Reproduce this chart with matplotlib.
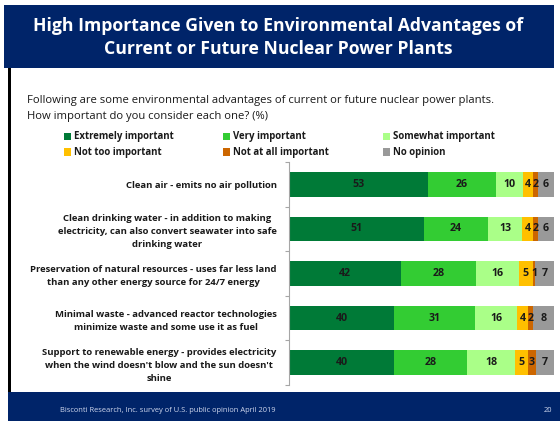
import matplotlib
matplotlib.use("Agg")
import matplotlib.pyplot as plt
from matplotlib.patches import Rectangle
import numpy as np

plt.rcParams['font.family'] = ['Open Sans', 'DejaVu Sans']

categories = [
    "Clean air - emits no air pollution",
    "Clean drinking water - in addition to making\nelectricity, can also convert seawater into safe\ndrinking water",
    "Preservation of natural resources - uses far less land\nthan any other energy source for 24/7 energy",
    "Minimal waste - advanced reactor technologies\nminimize waste and some use it as fuel",
    "Support to renewable energy - provides electricity\nwhen the wind doesn't blow and the sun doesn't\nshine",
]
series_names = ["Extremely important", "Very important", "Somewhat important",
                "Not too important", "Not at all important", "No opinion"]
extremely = [53, 51, 42, 40, 40]
very = [26, 24, 28, 31, 28]
somewhat = [10, 13, 16, 16, 18]
not_too = [4, 4, 5, 4, 5]
not_at_all = [2, 2, 1, 2, 3]
no_opinion = [6, 6, 7, 8, 7]
colors = ["#007A37", "#33CC33", "#AAFF88", "#FFC000", "#CC6600", "#999999"]

W, H = 560, 421
fig = plt.figure(figsize=(W/100, H/100), dpi=100)
fig.patch.set_facecolor("white")

def fx(x): return x / W
def fy(y): return 1 - y / H

navy = "#002469"
fig.patches.append(Rectangle((fx(4), fy(68)), fx(550), 63/H, transform=fig.transFigure,
                             facecolor=navy, edgecolor="none", zorder=0))
fig.patches.append(Rectangle((fx(8), 0), fx(2.5), fy(68), transform=fig.transFigure,
                             facecolor="black", edgecolor="none", zorder=0))
fig.patches.append(Rectangle((fx(8), 0), fx(552), 29/H, transform=fig.transFigure,
                             facecolor=navy, edgecolor="none", zorder=0))

fig.text(fx(278), fy(37.5), "High Importance Given to Environmental Advantages of\nCurrent or Future Nuclear Power Plants",
         color="white", fontsize=12.7, fontweight="bold", ha="center", va="center", linespacing=1.42)
fig.text(fx(27), fy(101), "Following are some environmental advantages of current or future nuclear power plants.",
         fontsize=8.15, ha="left", va="center", color="#1a1a1a")
fig.text(fx(27), fy(116), "How important do you consider each one? (%)",
         fontsize=8.15, ha="left", va="center", color="#1a1a1a")
fig.text(fx(60), fy(410), "Bisconti Research, Inc. survey of U.S. public opinion April 2019",
         fontsize=5.4, color="#d0d8ee", ha="left", va="center")
fig.text(fx(548), fy(410), "20", fontsize=5.4, color="#d0d8ee", ha="center", va="center")

leg_x = [64, 223, 383]
leg_y = [136, 152]
for i, (name, c) in enumerate(zip(series_names, colors)):
    r, col = divmod(i, 3)
    x, yy = leg_x[col], leg_y[r]
    fig.patches.append(Rectangle((fx(x), fy(yy + 3.5)), fx(7), 7/H, transform=fig.transFigure,
                                 facecolor=c, edgecolor="none"))
    fig.text(fx(x + 10), fy(yy), name, fontsize=6.9, fontweight="bold", ha="left", va="center",
             color="#1a1a1a")

ax = fig.add_axes([fx(289), fy(385), fx(265), 223/H])
data = np.array([extremely, very, somewhat, not_too, not_at_all, no_opinion], dtype=float)
totals = data.sum(axis=0)
pct = data / totals * 100
y = np.arange(len(categories))
left = np.zeros(len(categories))
for k in range(len(series_names)):
    ax.barh(y, pct[k], left=left, height=0.55, color=colors[k], edgecolor="none")
    for j in range(len(categories)):
        ax.text(left[j] + pct[k][j] / 2, y[j], f"{int(data[k][j])}", ha="center", va="center",
                fontsize=7.7, fontweight="bold", color="#1a1a1a")
    left += pct[k]

ax.set_xlim(0, 100)
ax.set_ylim(len(categories) - 0.5, -0.5)
for s in ["top", "right", "bottom"]:
    ax.spines[s].set_visible(False)
ax.spines["left"].set_color("#A6A6A6")
ax.spines["left"].set_linewidth(0.8)
ax.set_xticks([])
ax.set_yticks(y)
ax.set_yticklabels(categories, fontsize=6.8, fontweight="bold", multialignment="center",
                   color="#1a1a1a", linespacing=1.55)
ax.tick_params(axis="y", which="major", length=0, pad=9)
ax.set_yticks(np.arange(-0.5, len(categories) + 0.5, 1.0), minor=True)
ax.tick_params(axis="y", which="minor", length=3, color="#A6A6A6", width=0.8)

fig.savefig("out.png", dpi=100, facecolor="white")
